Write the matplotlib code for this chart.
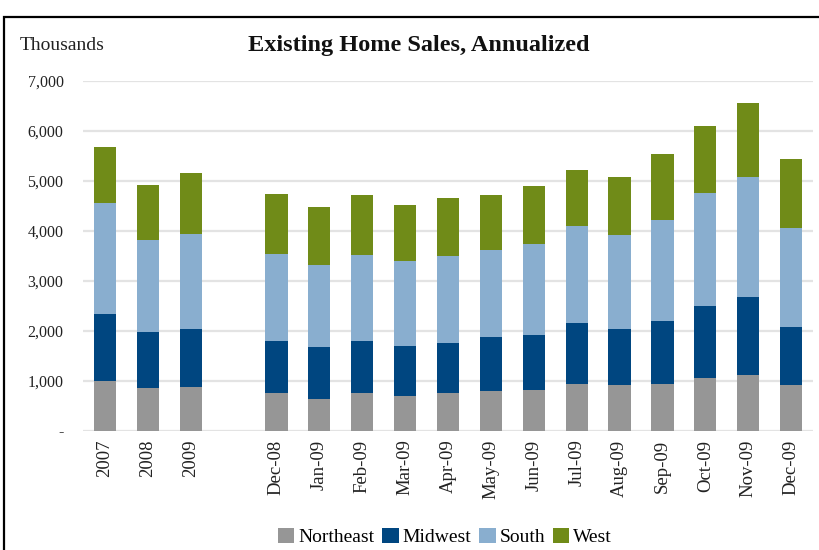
import matplotlib
matplotlib.use("Agg")
import matplotlib.pyplot as plt
import numpy as np
from matplotlib.patches import Rectangle
from matplotlib.ticker import FuncFormatter

categories = ["2007", "2008", "2009", "", "Dec-08", "Jan-09", "Feb-09", "Mar-09", "Apr-09",
              "May-09", "Jun-09", "Jul-09", "Aug-09", "Sep-09", "Oct-09", "Nov-09", "Dec-09"]
northeast = [990, 850, 870, 0, 750, 630, 750, 690, 750, 790, 810, 930, 910, 930, 1050, 1110, 910]
midwest   = [1345, 1125, 1165, 0, 1045, 1045, 1045, 1005, 1005, 1085, 1105, 1225, 1125, 1265, 1445, 1565, 1165]
south     = [2230, 1845, 1910, 0, 1745, 1645, 1725, 1705, 1740, 1745, 1825, 1945, 1880, 2030, 2270, 2410, 1985]
west      = [1105, 1090, 1205, 0, 1205, 1165, 1205, 1125, 1170, 1105, 1165, 1125, 1170, 1320, 1325, 1465, 1385]
series_names = ["Northeast", "Midwest", "South", "West"]
colors = ["#969696", "#004680", "#89AECF", "#708B18"]
yticks = [0, 1000, 2000, 3000, 4000, 5000, 6000, 7000]

serif = ["Liberation Serif", "DejaVu Serif"]
plt.rcParams["font.family"] = serif

fig = plt.figure(figsize=(8.2, 5.5), dpi=100)
ax = fig.add_axes([83/820, 1 - 430.5/550, (813 - 83)/820, (430.5 - 81)/550])

x = np.arange(len(categories))
bottom = np.zeros(len(categories))
for name, vals, c in zip(series_names, [northeast, midwest, south, west], colors):
    vals = np.array(vals, dtype=float)
    ax.bar(x, vals, width=0.52, bottom=bottom, color=c, label=name, zorder=3)
    bottom += vals

ax.set_xlim(-0.51, len(categories) - 0.49)
ax.set_ylim(0, 7000)
ax.set_yticks(yticks)
ax.yaxis.set_major_formatter(FuncFormatter(lambda v, p: "-" if v == 0 else f"{int(v):,}"))
ax.grid(axis="y", color="#E3E3E3", linewidth=1.6, zorder=0)
ax.set_axisbelow(True)
for s in ax.spines.values():
    s.set_visible(False)
ax.tick_params(axis="y", length=0, pad=14, labelsize=11.5, labelcolor="#222222")
ax.set_xticks(x)
ax.set_xticklabels(categories, rotation=90, fontsize=13.5, color="#222222")
ax.tick_params(axis="x", length=0, pad=6.5)

fig.text(20/820, 1 - 46/550, "Thousands", fontsize=14, va="center", ha="left", color="#222222")
fig.text(419/820, 1 - 46/550, "Existing Home Sales, Annualized", fontsize=17.5,
         fontweight="bold", va="center", ha="center", color="#111111")

leg = fig.legend(loc="center", bbox_to_anchor=(445/820, 1 - 537/550), ncol=4, frameon=False,
                 fontsize=14, handlelength=0.85, handleheight=0.85, handletextpad=0.2,
                 columnspacing=0.4, borderaxespad=0)

fig.patches.append(Rectangle((4/820, -0.1), 1.2, 1 - 17/550 + 0.1, transform=fig.transFigure,
                             fill=False, edgecolor="black", linewidth=1.6))

fig.savefig("out.png", dpi=100)
